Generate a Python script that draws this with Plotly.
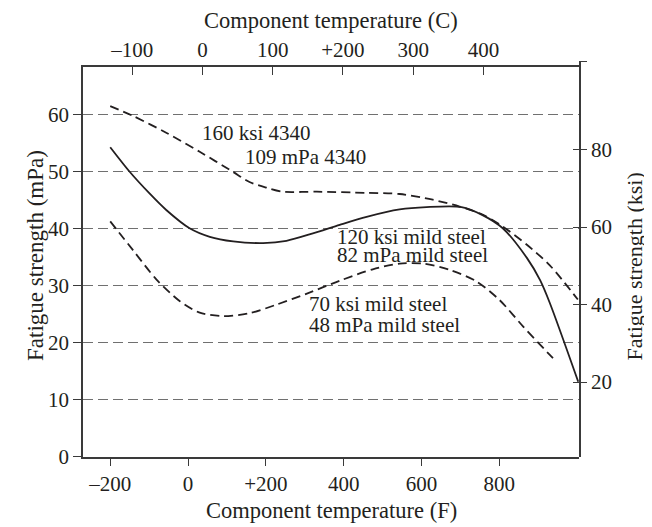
import plotly.graph_objects as go

# Fatigue strength (left axis units) vs component temperature (F)
TEMP_F_4340 = [-200, -142, -55, 30, 115, 158, 202, 243, 331, 459, 544, 629, 698, 757, 809, 871, 930, 1002]
STRENGTH_4340 = [61.5, 59.8, 56.8, 53.5, 50.0, 48.2, 47.2, 46.5, 46.5, 46.3, 46.1, 45.1, 43.9, 42.5, 40.4, 37.2, 33.6, 27.6]

TEMP_F_120 = [-200, -150, -99, -56, 4, 56, 116, 193, 253, 321, 390, 459, 544, 613, 703, 757, 809, 871, 905, 930, 1003]
STRENGTH_120 = [54.3, 50.0, 46.2, 43.3, 40.1, 38.6, 37.8, 37.5, 37.9, 39.2, 40.7, 42.1, 43.4, 43.8, 43.8, 42.4, 40.1, 34.9, 31.0, 27.0, 13.2]

TEMP_F_70 = [-200, -142, -81, -21, 30, 90, 158, 227, 304, 390, 475, 544, 604, 673, 741, 801, 861, 930, 943]
STRENGTH_70 = [41.3, 36.3, 31.1, 27.3, 25.3, 24.7, 25.2, 26.7, 28.6, 30.9, 32.9, 33.9, 33.9, 32.8, 30.8, 27.5, 22.9, 17.9, 17.0]

F_TICKS = [-200, 0, 200, 400, 600, 800]
F_TICK_TEXT = ["\u2013200", "0", "+200", "400", "600", "800"]
C_TICKS = [-100, 0, 100, 200, 300, 400]
C_TICK_TEXT = ["\u2013100", "0", "100", "+200", "300", "400"]
MPA_TICKS = [0, 10, 20, 30, 40, 50, 60]
KSI_TICKS = [20, 40, 60, 80]

F_RANGE = [-270, 1005]
C_RANGE = [-170, 536]
MPA_RANGE = [0, 68.3]
KSI_RANGE = [0.7, 102.8]
KSI_CAP = 102.6  # end tick at the top of the right axis

FONT = "Liberation Serif, Times New Roman, serif"
INK = "#231f20"
AXIS = "#3a3a3a"
GRID = "#707070"

fig = go.Figure()

curve_line = dict(color=INK, width=1.8, shape="spline", smoothing=0.8)
fig.add_trace(go.Scatter(x=TEMP_F_4340, y=STRENGTH_4340, mode="lines",
                         line=dict(curve_line, dash="9px,5px"), name="4340"))
fig.add_trace(go.Scatter(x=TEMP_F_120, y=STRENGTH_120, mode="lines",
                         line=curve_line, name="120 ksi mild steel"))
fig.add_trace(go.Scatter(x=TEMP_F_70, y=STRENGTH_70, mode="lines",
                         line=dict(curve_line, dash="9px,5px"), name="70 ksi mild steel"))

# empty traces so the secondary axes get drawn
for xa, ya in (("x2", "y"), ("x", "y2"), ("x", "y3")):
    fig.add_trace(go.Scatter(x=[None], y=[None], xaxis=xa, yaxis=ya,
                             showlegend=False, hoverinfo="skip"))

labels = [
    ("160 ksi 4340", 30, 56.8),
    ("109 mPa 4340", 140, 52.6),
    ("120 ksi mild steel", 378, 38.5),
    ("82 mPa mild steel", 378, 35.4),
    ("70 ksi mild steel", 305, 26.8),
    ("48 mPa mild steel", 305, 23.2),
]
for text, x, y in labels:
    fig.add_annotation(x=x, y=y, xref="x", yref="y", text=text, showarrow=False,
                       xanchor="left", yanchor="middle", font=dict(size=21, color=INK))

titles = [
    ("Component temperature (F)", 0.5, -0.136, 0, 22.5),
    ("Component temperature (C)", 0.5, 1.102, 0, 22.5),
    ("Fatigue strength (mPa)", -0.097, 0.51, -90, 23),
    ("Fatigue strength (ksi)", 1.112, 0.48, -90, 22),
]
for text, x, y, ang, size in titles:
    fig.add_annotation(x=x, y=y, xref="paper", yref="paper", text=text, showarrow=False,
                       xanchor="center", yanchor="middle", textangle=ang,
                       font=dict(size=size, color=INK))

tickfont = dict(family=FONT, size=21, color=INK)
# page body adds an 8px offset, so the figure is 8px smaller than the window
fig.update_layout(
    width=644, height=519,
    margin=dict(l=75, r=73, t=53, b=70),
    paper_bgcolor="white", plot_bgcolor="rgba(0,0,0,0)",
    font=dict(family=FONT, size=21, color=INK),
    showlegend=False,
    xaxis=dict(range=F_RANGE, tickvals=F_TICKS, ticktext=F_TICK_TEXT,
               ticks="outside", ticklen=7, tickwidth=1.3, tickcolor=AXIS,
               showline=True, linecolor=AXIS, linewidth=1.6,
               showgrid=False, zeroline=False, tickfont=tickfont, anchor="y"),
    xaxis2=dict(range=C_RANGE, tickvals=C_TICKS, ticktext=C_TICK_TEXT,
                overlaying="x", side="top", anchor="y",
                ticks="inside", ticklen=8, tickwidth=1.3, tickcolor=AXIS,
                showline=True, linecolor=AXIS, linewidth=1.6,
                showgrid=False, zeroline=False, tickfont=tickfont),
    yaxis=dict(range=MPA_RANGE, domain=[0, 0.984], tickvals=MPA_TICKS,
               ticks="outside", ticklen=8, tickwidth=1.3, tickcolor=AXIS,
               showline=True, linecolor=AXIS, linewidth=1.6,
               showgrid=True, gridcolor=GRID, gridwidth=1.3, griddash="10px,5px",
               zeroline=False, tickfont=tickfont, anchor="x"),
    yaxis2=dict(range=KSI_RANGE, domain=[0, 1], side="right", anchor="x",
                tickvals=KSI_TICKS + [KSI_CAP],
                ticktext=[str(v) for v in KSI_TICKS] + [""],
                ticks="outside", ticklen=6, tickwidth=1.3, tickcolor=AXIS,
                showline=True, linecolor=AXIS, linewidth=1.6,
                showgrid=False, zeroline=False, tickfont=tickfont),
    yaxis3=dict(range=KSI_RANGE, overlaying="y2", side="right", anchor="x",
                tickvals=KSI_TICKS + [KSI_CAP], showticklabels=False,
                ticks="inside", ticklen=6, tickwidth=1.3, tickcolor=AXIS,
                showline=False, showgrid=False, zeroline=False),
)

fig.write_html("out.html")
